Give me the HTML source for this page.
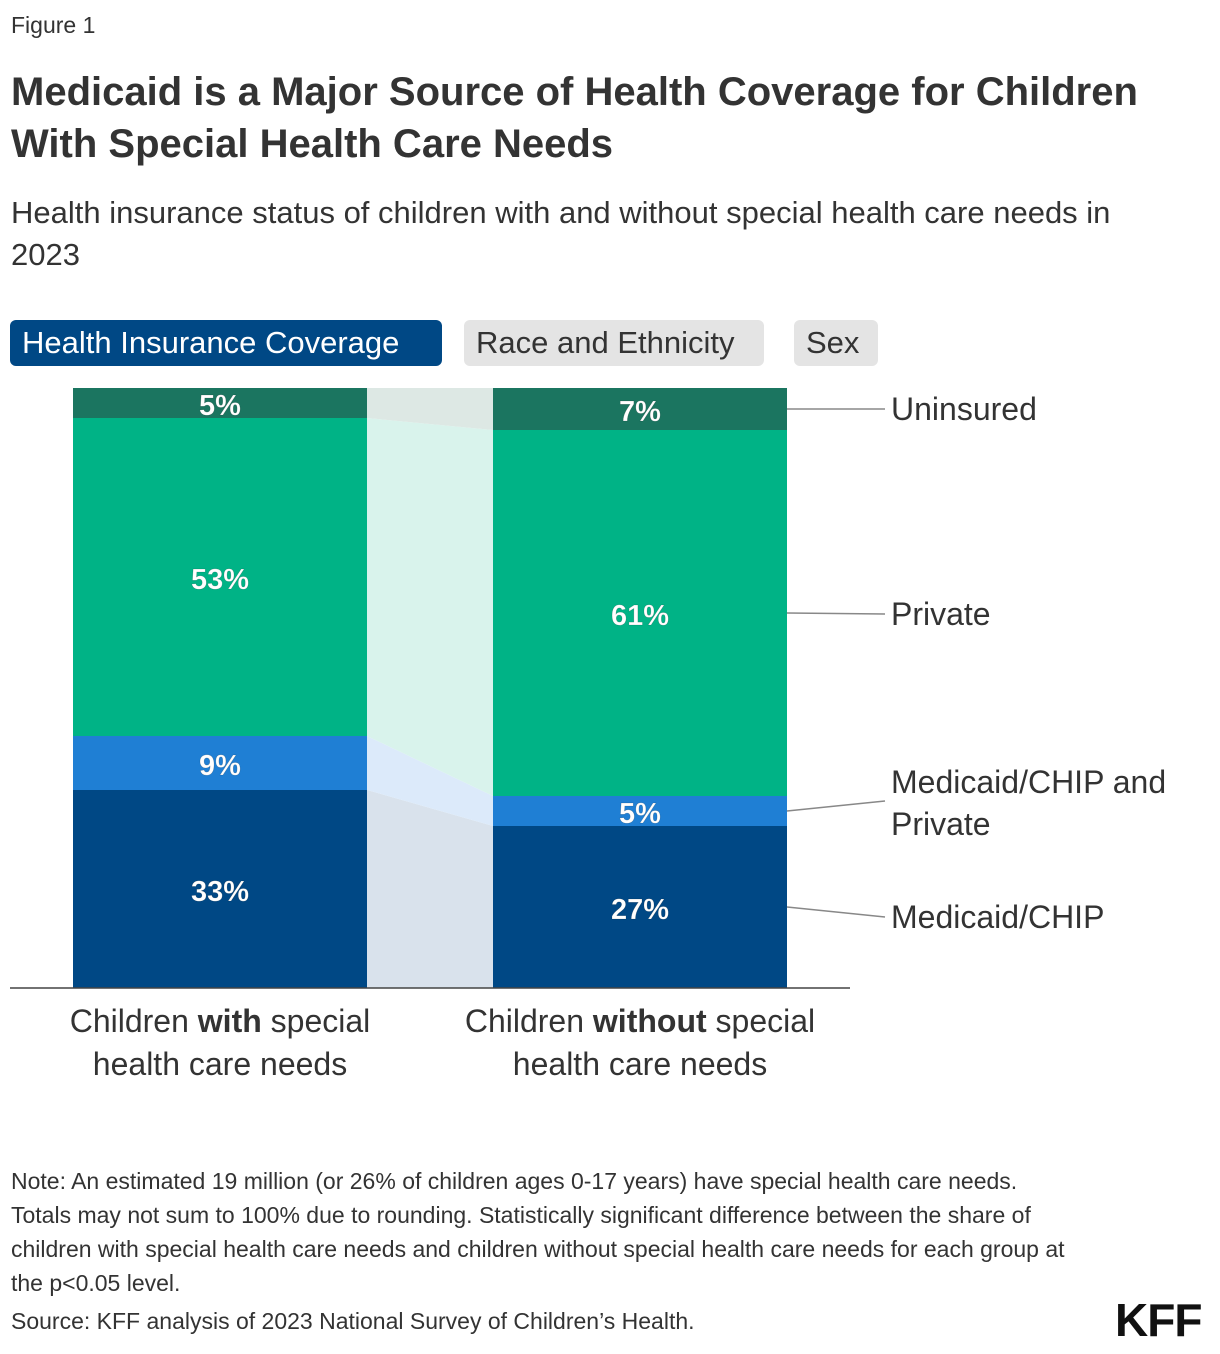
<!DOCTYPE html>
<html><head><meta charset="utf-8"><style>
body{margin:0;width:1220px;height:1354px;background:#fff;font-family:"Liberation Sans",sans-serif;color:#222;position:relative;overflow:hidden}
.a{position:absolute}
.tab{position:absolute;top:320px;height:46px;border-radius:6px;font-size:31px;line-height:46px;padding:0 12px;box-sizing:border-box}
</style></head><body>
<div class="a" style="left:11px;top:12px;font-size:23px;color:#333">Figure 1</div>
<div class="a" style="left:11px;top:66px;font-size:40px;font-weight:bold;line-height:52px;color:#333;white-space:nowrap">Medicaid is a Major Source of Health Coverage for Children<br>With Special Health Care Needs</div>
<div class="a" style="left:11px;top:192px;font-size:31px;line-height:42px;color:#333;width:1170px">Health insurance status of children with and without special health care needs in 2023</div>
<div class="tab" style="left:10px;width:432px;background:#004885;color:#fff">Health Insurance Coverage</div>
<div class="tab" style="left:464px;width:300px;background:#e4e4e4;color:#333">Race and Ethnicity</div>
<div class="tab" style="left:794px;width:84px;background:#e4e4e4;color:#333">Sex</div>
<svg class="a" style="left:0;top:0" width="1220" height="1354" id="chart"></svg>
<div class="a" style="left:11px;top:1164px;font-size:23px;line-height:34px;color:#333;width:1060px">Note: An estimated 19 million (or 26% of children ages 0-17 years) have special health care needs. Totals may not sum to 100% due to rounding. Statistically significant difference between the share of children with special health care needs and children without special health care needs for each group at the p&lt;0.05 level.</div>
<div class="a" style="left:11px;top:1308px;font-size:23px;color:#333">Source: KFF analysis of 2023 National Survey of Children’s Health.</div>
<div class="a" style="left:1115px;top:1293px;font-size:46px;font-weight:bold;color:#111;letter-spacing:-1px">KFF</div>
<script>
const categories=["with","without"];
const seriesNames=["Medicaid/CHIP","Medicaid/CHIP and Private","Private","Uninsured"];
const withValues=[33,9,53,5];
const withoutValues=[27,5,61,7];
const colors=["#004885","#1f7fd4","#00b386","#1b7560"];
const light=["#d9e2ec","#dceafa","#d9f3ec","#dde8e4"];
const svg=document.getElementById('chart');const NS="http://www.w3.org/2000/svg";
const base=988,scale=6;const y=v=>base-v*scale;
const bx=[73,493],bw=294;
function mk(t,a){const e=document.createElementNS(NS,t);for(const k in a)e.setAttribute(k,a[k]);svg.appendChild(e);return e;}
const data=[withValues,withoutValues];
const cum=data.map(vals=>{let c=0;return vals.map(v=>{const s=c;c+=v;return [s,c];});});
for(let i=0;i<4;i++){const p=mk('polygon',{fill:light[i],points:`${bx[0]+bw},${y(cum[0][i][0])} ${bx[1]},${y(cum[1][i][0])} ${bx[1]},${y(cum[1][i][1])} ${bx[0]+bw},${y(cum[0][i][1])}`});

}
for(let b=0;b<2;b++)for(let i=0;i<4;i++){const [s,e]=cum[b][i];
const r=mk('rect',{x:bx[b],y:y(e),width:bw,height:(e-s)*scale,fill:colors[i]});


const t=mk('text',{x:bx[b]+bw/2,y:y((s+e)/2)+12,'text-anchor':'middle','font-size':29,'font-weight':'bold',fill:'#fff',stroke:'rgba(0,0,0,0.25)','stroke-width':0.5,'font-family':'Liberation Sans'});t.textContent=data[b][i]+'%';

}
const ax=mk('line',{x1:10,x2:850,y1:base,y2:base,stroke:'#444','stroke-width':1.5});


const legY=[917,801,614,409];const legLines=[["Medicaid/CHIP"],["Medicaid/CHIP and","Private"],["Private"],["Uninsured"]];
for(let i=0;i<4;i++){const [s,e]=cum[1][i];const my=y((s+e)/2);
const l=mk('line',{x1:787,y1:my,x2:885,y2:legY[i],stroke:'#888','stroke-width':1.5});


const ty=legLines[i].length>1?legY[i]-8:legY[i]+11;
legLines[i].forEach((ln,k)=>{const t=mk('text',{x:891,y:ty+k*42,'font-size':32,fill:'#333','font-family':'Liberation Sans'});t.textContent=ln;

});}
const xl=[["Children ","with"," special","health care needs"],["Children ","without"," special","health care needs"]];
for(let b=0;b<2;b++){const cx=bx[b]+bw/2;
const t=mk('text',{x:cx,y:1032,'text-anchor':'middle','font-size':32,fill:'#333','font-family':'Liberation Sans'});
t.innerHTML=`${xl[b][0]}<tspan font-weight="bold">${xl[b][1]}</tspan>${xl[b][2]}`;


const t2=mk('text',{x:cx,y:1075,'text-anchor':'middle','font-size':32,fill:'#333','font-family':'Liberation Sans'});t2.textContent=xl[b][3];

}
</script>
</body></html>
